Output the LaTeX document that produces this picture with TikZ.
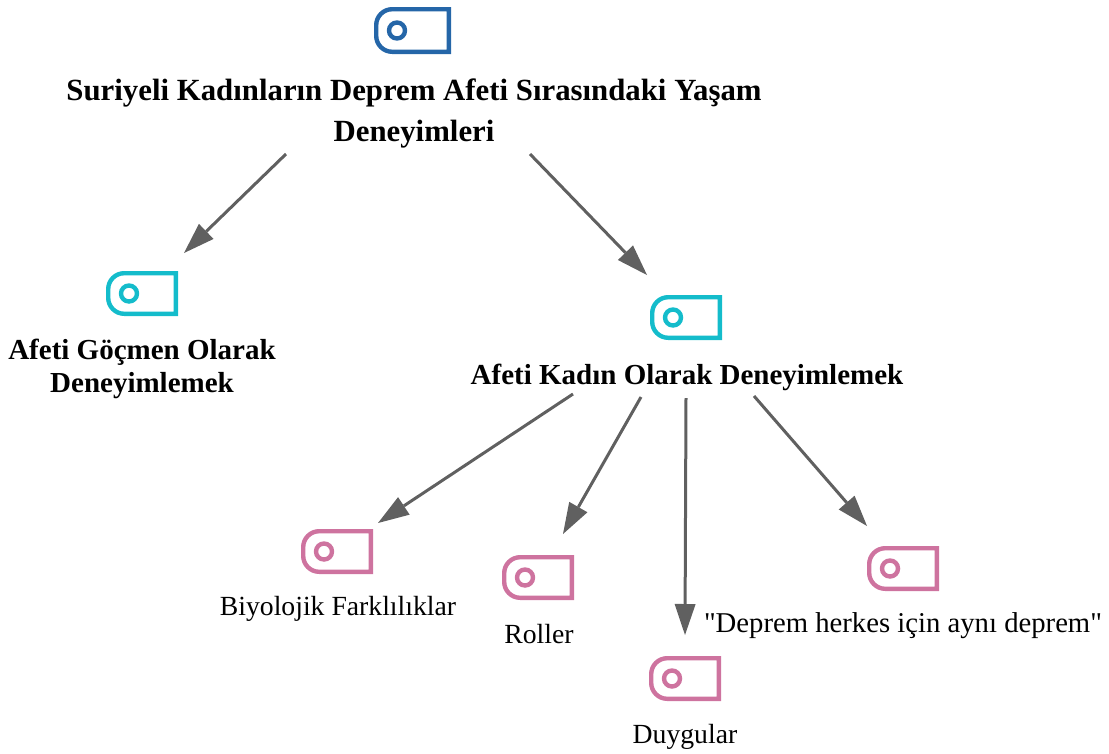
\documentclass[tikz,border=0pt]{standalone}
\usepackage{fontspec}
\setmainfont{Liberation Serif}
\newfontfamily\rawserif{Liberation Serif}
\usetikzlibrary{arrows.meta}
\definecolor{blueic}{HTML}{2566A8}
\definecolor{cyanic}{HTML}{14BCCB}
\definecolor{pinkic}{HTML}{CE739F}
\definecolor{arrowc}{HTML}{606060}
% name, x left outer, y top outer, width, height, colour
\newcommand{\tagicon}[6]{%
  \node[iconbox,minimum width=#4pt,minimum height=#5pt,anchor=north west] (#1) at (#2,#3) {};
  \draw[iconline,color=#6,rounded corners=16pt]
    ([xshift=-2.2pt,yshift=-2.2pt]#1.north east) -- ([xshift=2.2pt,yshift=-2.2pt]#1.north west)
    -- ([xshift=2.2pt,yshift=2.2pt]#1.south west)
    [sharp corners] -- ([xshift=-2.2pt,yshift=2.2pt]#1.south east) -- cycle;
  \draw[iconline,color=#6] ([xshift=23pt]#1.west) circle[radius=8pt];
}
\tikzset{
  x=1pt,y=-1pt,
  iconbox/.style={inner sep=0pt,outer sep=0pt},
  iconline/.style={line width=4.4pt,line join=miter},
  headtext/.style={font=\fontsize{30.8}{41}\selectfont\bfseries,align=center,inner sep=0pt},
  subtext/.style={font=\fontsize{29}{33}\selectfont\bfseries,align=center,inner sep=0pt},
  leaftext/.style={font=\fontsize{27.7}{30}\selectfont,align=center,inner sep=0pt},
  quotetext/.style={font=\rawserif\fontsize{28.7}{30}\selectfont,align=center,inner sep=0pt},
  link/.style={line width=3pt,color=arrowc,-{Triangle[length=31pt,width=21pt,line width=0pt]}},
}
\begin{document}
\begin{tikzpicture}
\useasboundingbox (0,0) rectangle (1109,753);
\tagicon{iR}{374}{7}{77}{47}{blueic}
\tagicon{iA}{106}{271}{72}{45}{cyanic}
\tagicon{iB}{650}{295}{72}{45}{cyanic}
\tagicon{iC}{301}{529}{72}{45}{pinkic}
\tagicon{iD}{502}{555}{72}{45}{pinkic}
\tagicon{iE}{649}{656}{72}{45}{pinkic}
\tagicon{iF}{867}{546}{72}{45}{pinkic}
\node[headtext] (tR) at (414,113.5) {Suriyeli Kadınların Deprem Afeti Sırasındaki Yaşam\\Deneyimleri};
\node[subtext] (tA) at (142,368.5) {Afeti Göçmen Olarak\\Deneyimlemek};
\node[subtext] (tB) at (687,377) {Afeti Kadın Olarak Deneyimlemek};
\node[leaftext] (tC) at (338,609) {Biyolojik Farklılıklar};
\node[leaftext] (tD) at (539,634) {Roller};
\node[leaftext] (tE) at (685,737) {Duygular};
\node[quotetext] (tF) at (903,626) {"Deprem herkes için aynı deprem"};
\coordinate (a1) at (286,154); \coordinate (a2) at (184,253);
\coordinate (b1) at (530,154); \coordinate (b2) at (647,275);
\coordinate (c1) at (573,394); \coordinate (c2) at (378,523);
\coordinate (d1) at (641,397); \coordinate (d2) at (563,534);
\coordinate (e1) at (686,398); \coordinate (e2) at (685,635);
\coordinate (f1) at (754,396); \coordinate (f2) at (867,526);
\draw[link] (a1) -- (a2);
\draw[link] (b1) -- (b2);
\draw[link] (c1) -- (c2);
\draw[link] (d1) -- (d2);
\draw[link] (e1) -- (e2);
\draw[link] (f1) -- (f2);
\end{tikzpicture}
\end{document}
